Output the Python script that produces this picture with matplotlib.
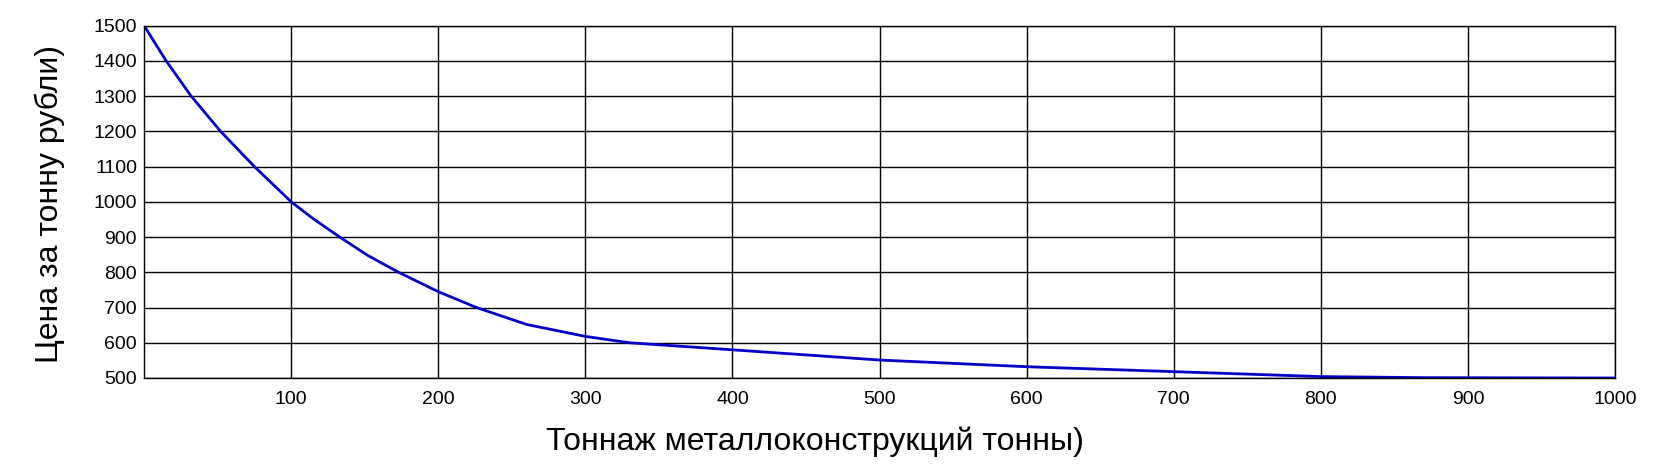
import matplotlib
matplotlib.use("Agg")
import matplotlib.pyplot as plt

# tonnage (t) vs price per tonne (rub)
tonnage = [0, 15, 32, 52, 75, 100, 115, 133, 152, 173, 200, 226, 260, 300, 330,
           400, 500, 600, 700, 800, 870, 1000]
price = [1500, 1400, 1300, 1200, 1100, 1000, 952, 900, 848, 800, 745, 700, 652, 618, 600,
         580, 551, 532, 518, 504, 501, 500]

x_ticks = [100, 200, 300, 400, 500, 600, 700, 800, 900, 1000]
y_ticks = [500, 600, 700, 800, 900, 1000, 1100, 1200, 1300, 1400, 1500]

plt.rcParams['font.family'] = ['Liberation Sans', 'DejaVu Sans']

fig = plt.figure(figsize=(16.78, 4.74), dpi=100)
ax = fig.add_axes([144/1678, 1 - 378/474, (1615 - 144)/1678, (378 - 25.5)/474])

ax.plot(tonnage, price, color='#0000c8', linewidth=2.0)

ax.set_xlim(0, 1000)
ax.set_ylim(500, 1500)
ax.set_xticks(x_ticks)
ax.set_yticks(y_ticks)
ax.grid(True, color='black', linewidth=1.0)
ax.tick_params(length=0, labelsize=14)
ax.tick_params(axis='x', pad=9)
ax.tick_params(axis='y', pad=5)
for s in ax.spines.values():
    s.set_linewidth(1.0)

fig.text(815/1678, 1 - 442/474, "Тоннаж металлоконструкций тонны)",
         ha='center', va='center', fontsize=23)
fig.text(50/1678, 1 - 204/474, "Цена за тонну рубли)",
         ha='center', va='center', rotation=90, fontsize=23)

fig.savefig("out.png", dpi=100)
